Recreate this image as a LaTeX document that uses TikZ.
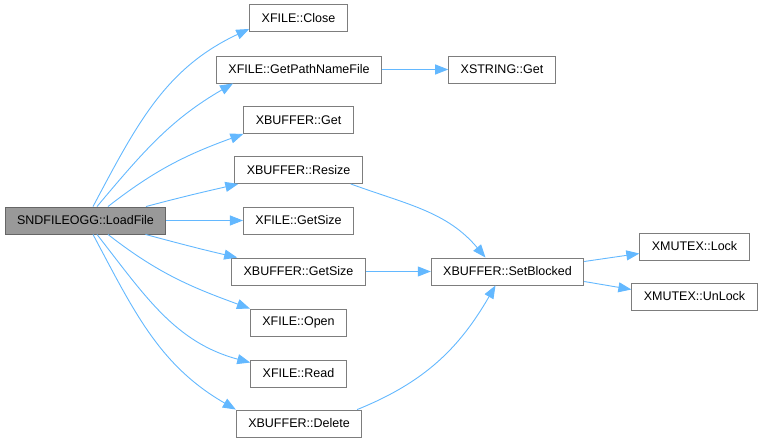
\documentclass[tikz,border=0pt]{standalone}
\usepackage{fontspec}
\setmainfont{Liberation Sans}
\usetikzlibrary{arrows.meta}

\definecolor{edgeblue}{HTML}{63B8FF}
\definecolor{rootfill}{HTML}{999999}
\definecolor{boxline}{HTML}{666666}

\begin{document}
\begin{tikzpicture}[x=1pt,y=-1pt,
	fn/.style={draw=boxline!85,fill=white,line width=0.9pt,minimum height=27pt,inner xsep=12pt,font=\fontsize{12.5}{14}\selectfont},
	root/.style={fn,fill=rootfill,draw=boxline},
	call/.style={draw=edgeblue,line width=0.9pt,-{Triangle[length=13pt,width=10pt]}}]
	
	\useasboundingbox (0,0) rectangle (762,443);
	
	\node[root] (load) at (85.5,220.5) {SNDFILEOGG::LoadFile};
	
	\node[fn] (close) at (298.5,18) {XFILE::Close};
	\node[fn] (path) at (299,69.5) {XFILE::GetPathNameFile};
	\node[fn] (bget) at (298.5,120) {XBUFFER::Get};
	\node[fn] (resize) at (298.5,170) {XBUFFER::Resize};
	\node[fn] (fsize) at (298.5,220.5) {XFILE::GetSize};
	\node[fn] (bsize) at (298.5,271.5) {XBUFFER::GetSize};
	\node[fn] (open) at (298.5,322.5) {XFILE::Open};
	\node[fn] (read) at (298.5,373.5) {XFILE::Read};
	\node[fn] (del) at (299,423.5) {XBUFFER::Delete};
	
	\node[fn] (sget) at (502,69.5) {XSTRING::Get};
	\node[fn] (setb) at (507.5,271.5) {XBUFFER::SetBlocked};
	\node[fn] (lock) at (694.5,246.5) {XMUTEX::Lock};
	\node[fn] (unlock) at (694.5,296.5) {XMUTEX::UnLock};
	
	% calls from LoadFile
	\draw[call] ([xshift=7.5pt]load.north) to[out=62,in=205] ([yshift=3pt]close.south west);
	\draw[call] ([xshift=11.5pt]load.north) to[out=50,in=210] ([xshift=17pt]path.south west);
	\draw[call] ([xshift=22.5pt]load.north) to[out=38,in=200] (bget.south west);
	\draw[call] ([xshift=60.5pt]load.north) to[out=15,in=193] ([xshift=4pt]resize.south west);
	\draw[call] (load.east) -- (fsize.west);
	\draw[call] ([xshift=60pt]load.south) to[out=-15,in=167] ([xshift=6pt]bsize.north west);
	\draw[call] ([xshift=22.5pt]load.south) to[out=-38,in=160] (open.north west);
	\draw[call] ([xshift=11.5pt]load.south) to[out=-52,in=165] ([yshift=-3pt]read.north west);
	\draw[call] ([xshift=7.5pt]load.south) to[out=-62,in=150] (del.north west);
	
	% second level
	\draw[call] (path.east) -- (sget.west);
	\draw[call] ([xshift=-12pt]resize.south east) to[out=-20,in=130] ([xshift=-22pt]setb.north);
	\draw[call] (bsize.east) -- (setb.west);
	\draw[call] ([xshift=-5pt]del.north east) to[out=22,in=240] ([xshift=-12pt]setb.south);
	\draw[call] ([yshift=10pt]setb.east) -- ([yshift=-7pt]lock.west);
	\draw[call] ([yshift=-10pt]setb.east) -- ([yshift=7pt]unlock.west);
	
\end{tikzpicture}
\end{document}
